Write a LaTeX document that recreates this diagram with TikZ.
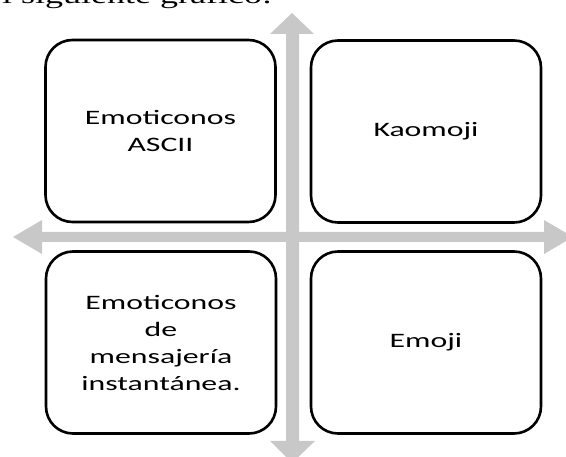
\documentclass[tikz,border=0pt]{standalone}
\usepackage{fontspec}
\newfontfamily\boxfont{Carlito}[FakeStretch=1.55]
\newfontfamily\topfont{Liberation Serif}[FakeStretch=1.5]
\definecolor{arrowgray}{RGB}{200,200,200}
\begin{document}
\begin{tikzpicture}[x=1pt,y=-1pt,
  quad/.style={draw=black, line width=2.6pt, fill=white, rounded corners=27pt,
    minimum width=230pt, minimum height=182pt, inner sep=0pt, align=center,
    font=\boxfont\fontsize{20.5}{27}\selectfont},
  crossarrow/.style={fill=arrowgray}]
\useasboundingbox (0,0) rectangle (566,457);
\begin{scope}
\clip (0,0) rectangle (566,457);
% caption fragment, cut at the top as in the reference
\node[anchor=base west, inner sep=0pt, font=\topfont\fontsize{24}{28}\selectfont] (cap) at (-14,4) {el siguiente gráfico:};
% cross arrow
\coordinate (c) at (292,237);
\fill[crossarrow] (13,237) -- (42,220) -- (42,232) -- (286,232) -- (286,34) -- (270,34)
  -- (292,13) -- (314,34) -- (299,34) -- (299,232) -- (544,232) -- (544,220) -- (573,237)
  -- (544,254) -- (544,242) -- (299,242) -- (299,441) -- (315,441) -- (292,463)
  -- (270,441) -- (286,441) -- (286,242) -- (42,242) -- (42,254) -- cycle;
\end{scope}
\node[quad] (ascii) at (160.5,131) {Emoticonos\\ASCII};
\node[quad] (kaomoji) at (426,131.5) {Kaomoji};
\node[quad] (msg) at (161,342.5) {Emoticonos\\de\\mensajería\\instantánea.};
\node[quad] (emoji) at (426,342.5) {Emoji};
\end{tikzpicture}
\end{document}
